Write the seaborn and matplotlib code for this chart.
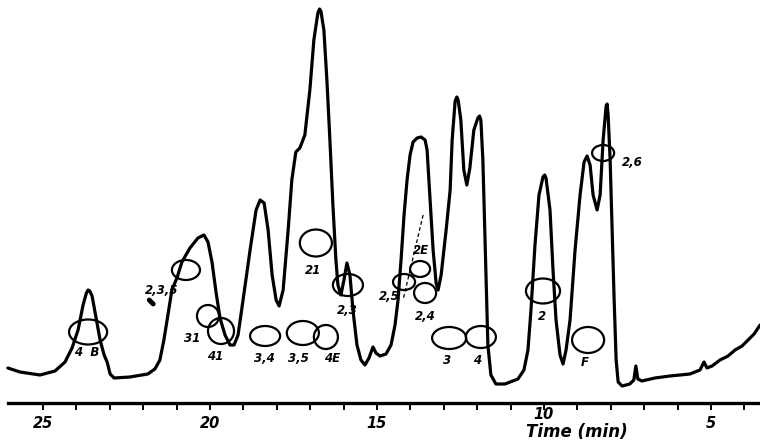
import numpy as np
import pandas as pd
import matplotlib
matplotlib.use("Agg")
import matplotlib.pyplot as plt
import matplotlib.transforms as mtransforms
from matplotlib.patches import Ellipse
import seaborn as sns

# Chromatogram trace (time in min, detector response in arbitrary units)
time_min = [26.05, 25.69, 25.09, 24.64, 24.34, 24.13, 23.95, 23.80, 23.70, 23.65, 23.60, 23.53,
            23.41, 23.29, 23.17, 23.08, 22.99, 22.87, 22.40, 21.86, 21.65, 21.50,
            21.38, 21.26, 21.14, 20.99, 20.84, 20.60, 20.36, 20.18, 20.06, 19.94,
            19.82, 19.70, 19.55, 19.40, 19.28, 19.16, 19.01, 18.80, 18.62, 18.50,
            18.38, 18.26, 18.14, 18.02, 17.93, 17.81, 17.66, 17.55, 17.43, 17.31,
            17.16, 17.01, 16.89, 16.77, 16.72, 16.68, 16.59, 16.50, 16.41, 16.32, 16.23,
            16.17, 16.08, 15.99, 15.90, 15.81, 15.72, 15.60, 15.48, 15.36, 15.24,
            15.12, 15.03, 14.91, 14.73, 14.58, 14.46, 14.37, 14.28, 14.19, 14.10,
            14.01, 13.92, 13.80, 13.68, 13.56, 13.50, 13.41, 13.32, 13.23, 13.17,
            13.08, 12.93, 12.81, 12.75, 12.66, 12.61, 12.57, 12.49, 12.40, 12.31, 12.22,
            12.10, 11.98, 11.93, 11.89, 11.83, 11.74, 11.68, 11.59, 11.44, 11.17, 10.78,
            10.60, 10.48, 10.39, 10.27, 10.15, 10.03, 9.98, 9.94, 9.82, 9.73, 9.64,
            9.52, 9.43, 9.34, 9.22, 9.07, 8.92, 8.80, 8.71, 8.62, 8.53,
            8.41, 8.32, 8.23, 8.14, 8.11, 8.08, 8.02, 7.96, 7.90, 7.84, 7.78,
            7.66, 7.43, 7.31, 7.25, 7.19, 7.07, 6.68, 6.23, 5.63, 5.33,
            5.21, 5.12, 4.97, 4.73, 4.49, 4.28, 4.07, 3.89, 3.71, 3.53]
signal = [35, 31, 28, 32, 41, 55, 73, 98, 110, 113, 112, 107,
          85, 63, 48, 41, 29, 25, 26, 29, 34, 43,
          63, 88, 113, 125, 141, 155, 165, 168, 161, 141,
          111, 85, 68, 58, 58, 68, 103, 153, 193, 203,
          200, 173, 128, 103, 97, 113, 173, 223, 251, 255,
          268, 313, 363, 390, 394, 392, 373, 323, 263, 198, 143,
          118, 108, 123, 140, 128, 93, 58, 43, 38, 45,
          56, 50, 47, 49, 58, 78, 103, 143, 188, 223,
          248, 261, 265, 266, 263, 253, 203, 153, 120, 113,
          128, 173, 213, 263, 302, 306, 303, 283, 233, 218, 235,
          273, 285, 287, 283, 243, 133, 58, 28, 19, 19, 24,
          33, 53, 93, 158, 208, 226, 228, 225, 193, 133, 83,
          48, 39, 53, 83, 153, 208, 241, 247, 238, 208,
          193, 208, 263, 297, 299, 288, 243, 173, 103, 43, 21,
          17, 19, 23, 37, 24, 22, 25, 27, 29, 33,
          41, 35, 37, 43, 47, 53, 57, 63, 69, 78]

# Spots marked on the trace (component codes)
spot_labels = ["4  B", "2,3,5", "31", "41", "3,4", "3,5", "4E", "21", "2,3",
               "2,5", "2E", "2,4", "3", "4", "2", "F", "2,6"]
spot_t = [23.65, 20.72, 20.06, 19.67, 18.35, 17.22, 16.53, 16.83, 15.87,
          14.19, 13.71, 13.56, 12.84, 11.89, 10.03, 8.68, 8.23]
spot_s = [71, 133, 87, 72, 67, 70, 66, 160, 118,
          121, 134, 110, 65, 66, 112, 63, 250]
spot_w = [1.14, 0.84, 0.66, 0.78, 0.90, 0.96, 0.72, 0.96, 0.90,
          0.66, 0.60, 0.66, 1.02, 0.90, 1.02, 0.96, 0.66]
spot_h = [25, 20, 22, 26, 20, 24, 24, 27, 22,
          16, 16, 20, 22, 22, 25, 26, 16]
label_t = [23.68, 21.44, 20.54, 19.85, 18.38, 17.34, 16.35, 16.92, 15.90,
           14.64, 13.68, 13.56, 12.90, 12.00, 10.06, 8.77, 7.37]
label_s = [51, 113, 65, 47, 45, 45, 45, 133, 92,
           106, 152, 86, 43, 43, 87, 41, 240]

major_ticks = [25, 20, 15, 10, 5]
minor_ticks = list(range(4, 26))

trace = pd.DataFrame({"time": time_min, "signal": signal})

sns.set_style("white")
plt.rcParams['font.family'] = ['DejaVu Sans']

fig = plt.figure(figsize=(7.6, 4.45), dpi=100)
ax = fig.add_axes([0, 42 / 445, 1, 403 / 445])

sns.lineplot(data=trace, x="time", y="signal", sort=False, estimator=None,
             color="black", linewidth=2.3, ax=ax)
ax.lines[0].set_solid_joinstyle("round")
ax.lines[0].set_solid_capstyle("round")

for i, lab in enumerate(spot_labels):
    ax.add_patch(Ellipse((spot_t[i], spot_s[i]), spot_w[i], spot_h[i],
                         fill=False, edgecolor="black", linewidth=1.6))
    ax.text(label_t[i], label_s[i], lab, ha="center", va="center", color="black",
            fontsize=8.5, fontweight="bold", fontstyle="italic")

# little smudges from the scan
ax.plot([21.82, 21.70], [103, 99], color="black", lw=3.5, solid_capstyle="round")
ax.plot([13.62, 14.22], [188, 103], color="black", lw=0.9, ls=(0, (3, 2)))

ax.set_xlim(26.287, 3.533)
ax.set_ylim(0, 403)
ax.set_xticks(major_ticks)
ax.set_xticks(minor_ticks, minor=True)
ax.set_xticklabels([str(t) for t in major_ticks], fontsize=10.5, color="black",
                   fontweight="bold", fontstyle="italic")
ax.set_yticks([])
ax.set_xlabel("")
ax.set_ylabel("")
for side in ["top", "left", "right"]:
    ax.spines[side].set_visible(False)
ax.spines["bottom"].set_linewidth(2.4)
ax.spines["bottom"].set_color("black")
ax.spines["bottom"].set_bounds(26.05, 3.533)
ax.tick_params(axis="x", which="both", bottom=True, direction="out", length=5,
               width=1.4, color="black", pad=4)

# the "10" label sits a little higher, above the axis title
for tl in ax.get_xticklabels():
    if tl.get_text() == "10":
        tl.set_transform(tl.get_transform() +
                         mtransforms.ScaledTranslation(0, 6 / 72, fig.dpi_scale_trans))

fig.text(577 / 760, 1 - 432 / 445, "Time (min)", ha="center", va="center",
         color="black", fontsize=12, fontweight="bold", fontstyle="italic")

fig.savefig("out.png", dpi=100)
